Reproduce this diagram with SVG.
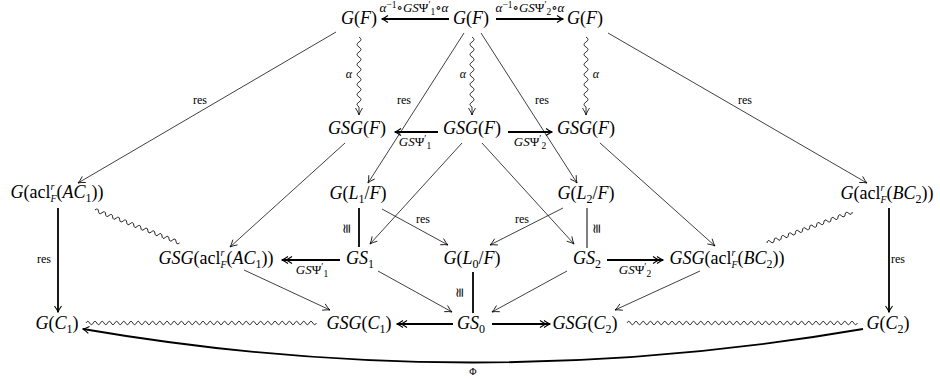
<svg xmlns="http://www.w3.org/2000/svg" width="940" height="379" viewBox="0 0 940 379">
<style>
.n{font-family:"Liberation Serif","DejaVu Serif",serif;font-size:18px;text-anchor:middle;fill:#000}
.i{font-style:italic}
.s{font-size:12px}
.ss{font-size:10px}
.l{font-family:"Liberation Serif","DejaVu Serif",serif;font-size:12px;text-anchor:middle;fill:#000}
.lb{font-family:"Liberation Serif","DejaVu Serif",serif;font-size:13px;text-anchor:middle;fill:#000}
.cong{font-family:"DejaVu Serif",serif;font-size:13px;text-anchor:middle;fill:#000;opacity:0.99}
.sc{font-size:9.5px}
.th{fill:none;stroke:#000;stroke-width:0.75}
.tw{fill:none;stroke:#000;stroke-width:0.8}
.tk{fill:none;stroke:#000;stroke-width:1.8}
.md{fill:none;stroke:#000;stroke-width:1}
.a{marker-end:url(#to)}
.ak{marker-end:url(#tok)}
.aa{marker-end:url(#tto)}
</style>
<defs>
<marker id="to" viewBox="-9 -5 10 10" refX="0" refY="0" markerWidth="10" markerHeight="10" markerUnits="userSpaceOnUse" orient="auto">
<path d="M-7,-3.5 Q-2.5,-0.6 0,0 Q-2.5,0.6 -7,3.5" fill="none" stroke="#000" stroke-width="0.8"/>
</marker>
<marker id="tok" viewBox="-9 -5 10 10" refX="0" refY="0" markerWidth="10" markerHeight="10" markerUnits="userSpaceOnUse" orient="auto">
<path d="M-6,-3.5 Q-2,-0.6 0,0 Q-2,0.6 -6,3.5" fill="none" stroke="#000" stroke-width="1.1"/>
</marker>
<marker id="tto" viewBox="-12 -5 13 10" refX="0" refY="0" markerWidth="13" markerHeight="10" markerUnits="userSpaceOnUse" orient="auto">
<path d="M-6,-3.5 Q-2,-0.6 0,0 Q-2,0.6 -6,3.5 M-10,-3.5 Q-6,-0.6 -4,0 Q-6,0.6 -10,3.5" fill="none" stroke="#000" stroke-width="1.1"/>
</marker>
<path id="wH" d="M0,0 q1.8,-3.4 3.6,0 t3.6,0 t3.6,0 t3.6,0 t3.6,0 t3.6,0 t3.6,0 t3.6,0 t3.6,0 t3.6,0 t3.6,0 t3.6,0 t3.6,0 t3.6,0 t3.6,0 t3.6,0 t3.6,0 t3.6,0 t3.6,0 t3.6,0 t3.6,0 t3.6,0 t3.6,0 t3.6,0 t3.6,0 t3.6,0 t3.6,0 t3.6,0 t3.6,0 t3.6,0 t3.6,0 t3.6,0 t3.6,0 t3.6,0 t3.6,0 t3.6,0 t3.6,0 t3.6,0 t3.6,0 t3.6,0 t3.6,0 t3.6,0 t3.6,0 t3.6,0 t3.6,0 t3.6,0 t3.6,0 t3.6,0 t3.6,0 t3.6,0 t3.6,0 t3.6,0 t3.6,0 t3.6,0 t3.6,0 t3.6,0 t3.6,0 t3.6,0 t3.6,0 t3.6,0 t3.6,0 t3.6,0 t3.6,0 t3.6,0"/>
<path id="wA" d="M0,0 q2.5,-4 5,0 t5,0 t5,0 t5,0 t5,0 t5,0 t5,0 t5,0 t5,0 t5,0 t5,0 t5,0 t5,0 t5,0 l8,0" marker-end="url(#to)"/>
<path id="wD" d="M0,0 q1.89,-3.6 3.78,0 t3.78,0 t3.78,0 t3.78,0 t3.78,0 t3.78,0 t3.78,0 t3.78,0 t3.78,0 t3.78,0 t3.78,0 t3.78,0 t3.78,0 t3.78,0 t3.78,0 t3.78,0 t3.78,0 t3.78,0 t3.78,0 t3.78,0 t3.78,0 t3.78,0 t3.78,0 t3.78,0"/>
</defs>
<rect width="940" height="379" fill="#fff"/>

<g id="connectors">
<!-- top row -->
<line class="tk ak" x1="449" y1="19" x2="382" y2="19"/>
<line class="tk ak" x1="496" y1="19" x2="563" y2="19"/>
<text class="lb" x="414" y="12"><tspan class="i">α</tspan><tspan class="sc" dy="-4">−1</tspan><tspan dy="4">∘</tspan><tspan class="i">GS</tspan>Ψ<tspan class="sc" dy="-4">′</tspan><tspan class="sc" dy="7">1</tspan><tspan dy="-3">∘</tspan><tspan class="i">α</tspan></text>
<text class="lb" x="530" y="12"><tspan class="i">α</tspan><tspan class="sc" dy="-4">−1</tspan><tspan dy="4">∘</tspan><tspan class="i">GS</tspan>Ψ<tspan class="sc" dy="-4">′</tspan><tspan class="sc" dy="7">2</tspan><tspan dy="-3">∘</tspan><tspan class="i">α</tspan></text>
<!-- alpha wavy -->
<use href="#wA" class="tw" transform="translate(359,37) rotate(90)"/>
<use href="#wA" class="tw" transform="translate(472,37) rotate(90)"/>
<use href="#wA" class="tw" transform="translate(586,37) rotate(90)"/>
<text class="l i" x="349" y="78">α</text>
<text class="l i" x="463" y="78">α</text>
<text class="l i" x="596" y="78">α</text>
<!-- res from G(F) -->
<line class="th a" x1="336" y1="32" x2="78" y2="183"/>
<line class="th a" x1="464" y1="33" x2="368" y2="183"/>
<line class="th a" x1="481" y1="33" x2="577" y2="183"/>
<line class="th a" x1="608" y1="33" x2="867" y2="183"/>
<text class="l" x="200" y="104">res</text>
<text class="l" x="404" y="104">res</text>
<text class="l" x="542" y="104">res</text>
<text class="l" x="745" y="104">res</text>
<!-- row 2 horizontal -->
<line class="tk ak" x1="438" y1="132" x2="395" y2="132"/>
<line class="tk ak" x1="508" y1="132" x2="552" y2="132"/>
<text class="lb" x="415" y="146"><tspan class="i">GS</tspan>Ψ<tspan class="sc" dy="-4">′</tspan><tspan class="sc" dy="7">1</tspan></text>
<text class="lb" x="530" y="146"><tspan class="i">GS</tspan>Ψ<tspan class="sc" dy="-4">′</tspan><tspan class="sc" dy="7">2</tspan></text>
<!-- row 2 diagonals -->
<line class="th a" x1="345" y1="143" x2="230" y2="247"/>
<line class="th a" x1="462" y1="143" x2="370" y2="244"/>
<line class="th a" x1="482" y1="143" x2="574" y2="244"/>
<line class="th a" x1="600" y1="143" x2="715" y2="246"/>
<!-- row 3 -->
<line class="tk" x1="359" y1="208" x2="359" y2="247"/>
<line class="md" x1="587" y1="208" x2="587" y2="248"/>
<text class="cong" x="347" y="232" transform="rotate(-90 347 228)">≅</text>
<text class="cong" x="597" y="232" transform="rotate(-90 597 228)">≅</text>
<line class="th a" x1="382" y1="209" x2="448" y2="245"/>
<line class="th a" x1="563" y1="208" x2="490" y2="245"/>
<text class="l" x="423" y="223">res</text>
<text class="l" x="522" y="223">res</text>
<use href="#wD" class="tw" transform="translate(95,210) rotate(21.2)"/>
<use href="#wD" class="tw" transform="translate(767,243) rotate(-20)"/>
<line class="tk ak" x1="58" y1="208" x2="58" y2="312"/>
<line class="tk ak" x1="889" y1="208" x2="889" y2="312"/>
<text class="l" x="44" y="263">res</text>
<text class="l" x="898" y="263">res</text>
<!-- row 4 -->
<line class="tk aa" x1="340" y1="260" x2="282" y2="260"/>
<line class="tk aa" x1="607" y1="260" x2="663" y2="260"/>
<text class="lb" x="312" y="274"><tspan class="i">GS</tspan>Ψ<tspan class="sc" dy="-4">′</tspan><tspan class="sc" dy="7">1</tspan></text>
<text class="lb" x="635" y="274"><tspan class="i">GS</tspan>Ψ<tspan class="sc" dy="-4">′</tspan><tspan class="sc" dy="7">2</tspan></text>
<line class="tk" x1="473" y1="272" x2="473" y2="313"/>
<text class="cong" x="460" y="296" transform="rotate(-90 460 292)">≅</text>
<line class="th a" x1="244" y1="270" x2="330" y2="310"/>
<line class="th a" x1="378" y1="271" x2="452" y2="312"/>
<line class="th a" x1="567" y1="271" x2="492" y2="312"/>
<line class="th a" x1="700" y1="271" x2="615" y2="310"/>
<!-- row 5 -->
<line class="tk aa" x1="453" y1="324" x2="397" y2="324"/>
<line class="tk aa" x1="492" y1="324" x2="550" y2="324"/>
<use href="#wH" class="tw" transform="translate(86,323)"/>
<use href="#wH" class="tw" transform="translate(627,323)"/>
<path class="tk ak" d="M863,329 Q473,396 83,329"/>
<text class="l" x="473" y="375" style="font-size:10px">Φ</text>
</g>

<g id="GF1"><text class="n" x="359" y="24"><tspan class="i">G</tspan>(<tspan class="i">F</tspan>)</text></g>
<g id="GF0"><text class="n" x="471" y="24"><tspan class="i">G</tspan>(<tspan class="i">F</tspan>)</text></g>
<g id="GF2"><text class="n" x="585" y="24"><tspan class="i">G</tspan>(<tspan class="i">F</tspan>)</text></g>

<g id="GSGF1"><text class="n" x="357" y="134"><tspan class="i">GSG</tspan>(<tspan class="i">F</tspan>)</text></g>
<g id="GSGF0"><text class="n" x="472" y="134"><tspan class="i">GSG</tspan>(<tspan class="i">F</tspan>)</text></g>
<g id="GSGF2"><text class="n" x="586" y="134"><tspan class="i">GSG</tspan>(<tspan class="i">F</tspan>)</text></g>

<g id="GaclAC1"><text class="n" x="57" y="198"><tspan class="i">G</tspan>(acl<tspan class="ss i" dy="-8">r</tspan><tspan class="ss i" dx="-3.9" dy="12">F</tspan><tspan dy="-4">(</tspan><tspan class="i">AC</tspan><tspan class="s" dy="4">1</tspan><tspan dy="-4">))</tspan></text></g>
<g id="GL1"><text class="n" x="358" y="199"><tspan class="i">G</tspan>(<tspan class="i">L</tspan><tspan class="s" dy="4">1</tspan><tspan dy="-4">/</tspan><tspan class="i">F</tspan>)</text></g>
<g id="GL2"><text class="n" x="586" y="199"><tspan class="i">G</tspan>(<tspan class="i">L</tspan><tspan class="s" dy="4">2</tspan><tspan dy="-4">/</tspan><tspan class="i">F</tspan>)</text></g>
<g id="GaclBC2"><text class="n" x="887" y="199"><tspan class="i">G</tspan>(acl<tspan class="ss i" dy="-8">r</tspan><tspan class="ss i" dx="-3.9" dy="12">F</tspan><tspan dy="-4">(</tspan><tspan class="i">BC</tspan><tspan class="s" dy="4">2</tspan><tspan dy="-4">))</tspan></text></g>

<g id="GSGaclAC1"><text class="n" x="216" y="264"><tspan class="i">GSG</tspan>(acl<tspan class="ss i" dy="-8">r</tspan><tspan class="ss i" dx="-3.9" dy="12">F</tspan><tspan dy="-4">(</tspan><tspan class="i">AC</tspan><tspan class="s" dy="4">1</tspan><tspan dy="-4">))</tspan></text></g>
<g id="GS1"><text class="n" x="360" y="264"><tspan class="i">GS</tspan><tspan class="s" dy="4">1</tspan></text></g>
<g id="GL0"><text class="n" x="472" y="264"><tspan class="i">G</tspan>(<tspan class="i">L</tspan><tspan class="s" dy="4">0</tspan><tspan dy="-4">/</tspan><tspan class="i">F</tspan>)</text></g>
<g id="GS2"><text class="n" x="587" y="264"><tspan class="i">GS</tspan><tspan class="s" dy="4">2</tspan></text></g>
<g id="GSGaclBC2"><text class="n" x="727" y="264"><tspan class="i">GSG</tspan>(acl<tspan class="ss i" dy="-8">r</tspan><tspan class="ss i" dx="-3.9" dy="12">F</tspan><tspan dy="-4">(</tspan><tspan class="i">BC</tspan><tspan class="s" dy="4">2</tspan><tspan dy="-4">))</tspan></text></g>

<g id="GC1"><text class="n" x="57" y="329"><tspan class="i">G</tspan>(<tspan class="i">C</tspan><tspan class="s" dy="4">1</tspan><tspan dy="-4">)</tspan></text></g>
<g id="GSGC1"><text class="n" x="359" y="329"><tspan class="i">GSG</tspan>(<tspan class="i">C</tspan><tspan class="s" dy="4">1</tspan><tspan dy="-4">)</tspan></text></g>
<g id="GS0"><text class="n" x="471" y="329"><tspan class="i">GS</tspan><tspan class="s" dy="4">0</tspan></text></g>
<g id="GSGC2"><text class="n" x="585" y="329"><tspan class="i">GSG</tspan>(<tspan class="i">C</tspan><tspan class="s" dy="4">2</tspan><tspan dy="-4">)</tspan></text></g>
<g id="GC2"><text class="n" x="888" y="329"><tspan class="i">G</tspan>(<tspan class="i">C</tspan><tspan class="s" dy="4">2</tspan><tspan dy="-4">)</tspan></text></g>
</svg>
